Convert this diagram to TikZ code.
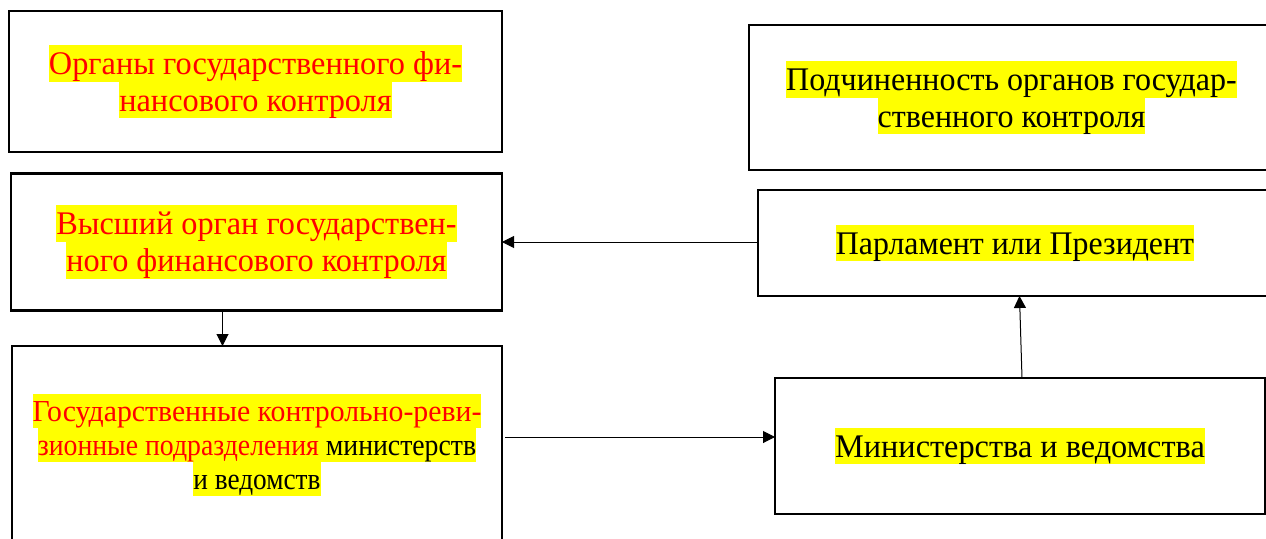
\documentclass[tikz,border=0pt]{standalone}
\usepackage{fontspec}
\usepackage{graphicx}
\setmainfont{Liberation Serif}
\usetikzlibrary{arrows.meta}

\definecolor{hlyellow}{RGB}{255,255,0}
\definecolor{txtred}{RGB}{255,0,0}

% highlighted line: yellow band as tall as the font's ascent + descent,
% optional horizontal squeeze of the whole line
\newlength\hlasc
\newlength\hldsc
\newcommand\hlline[2][1]{\scalebox{#1}[1]{\setlength\fboxsep{0pt}\colorbox{hlyellow}{\rule[-\hldsc]{0pt}{\dimexpr\hlasc+\hldsc\relax}#2}}}
\newcommand\bigfont{\rmfamily\fontsize{33}{36.8}\selectfont\setlength\hlasc{29.6pt}\setlength\hldsc{7.2pt}}
\newcommand\midfont{\rmfamily\fontsize{30.5}{33.9}\selectfont\setlength\hlasc{27.2pt}\setlength\hldsc{6.7pt}}

\tikzset{
  box/.style={draw=black, line width=2.5pt, fill=white, inner sep=0pt, outer sep=0pt,
              align=center, font=\bigfont},
  link/.style={line width=1pt, -{Triangle[length=12pt,width=12pt]}}
}

\begin{document}
\begin{tikzpicture}[x=1pt, y=-1pt]
  \useasboundingbox (0,0) rectangle (1266,538);
  \fill[white] (0,0) rectangle (1266,538);
  \clip (0,0) rectangle (1266,538);

  % left column: bodies of financial control
  \node[box, minimum width=493pt, minimum height=141pt, text=txtred] (organy) at (255.5,81.5)
    {\hlline[0.98]{Органы государственного фи-}\\\hlline[0.98]{нансового контроля}};
  \node[box, minimum width=491pt, minimum height=137pt, text=txtred] (vysshiy) at (256.5,242)
    {\hlline[0.978]{Высший орган государствен-}\\\hlline[0.978]{ного финансового контроля}};
  \node[box, minimum width=490pt, minimum height=198pt, font=\midfont] (krp) at (257,445)
    {\hlline[0.976]{\textcolor{txtred}{Государственные контрольно-реви-}}\\
     \hlline[0.91]{\textcolor{txtred}{зионные подразделения} министерств}\\
     \hlline[0.894]{и ведомств}};

  % right column: subordination
  \node[box, minimum width=525pt, minimum height=145pt] (podch) at (1011.5,97.5)
    {\hlline[0.97]{Подчиненность органов государ-}\\\hlline[0.97]{ственного контроля}};
  \node[box, minimum width=514pt, minimum height=106pt] (parl) at (1015,243)
    {\hlline[0.965]{Парламент или Президент}};
  \node[box, minimum width=490pt, minimum height=136pt] (minved) at (1020,446)
    {\hlline[0.979]{Министерства и ведомства}};

  % connectors
  \draw[link] ([yshift=1pt]parl.west) -- ([yshift=1pt]parl.west -| vysshiy.east);
  \draw[link] ([xshift=-34pt]vysshiy.south) -- ([xshift=-34pt]vysshiy.south |- krp.north);
  \draw[link] ([xshift=3pt, yshift=8pt]krp.east) -- ([yshift=8pt]krp.east -| minved.west);
  \draw[link] ([xshift=2pt]minved.north) -- ([xshift=4.5pt]parl.south);
\end{tikzpicture}
\end{document}
